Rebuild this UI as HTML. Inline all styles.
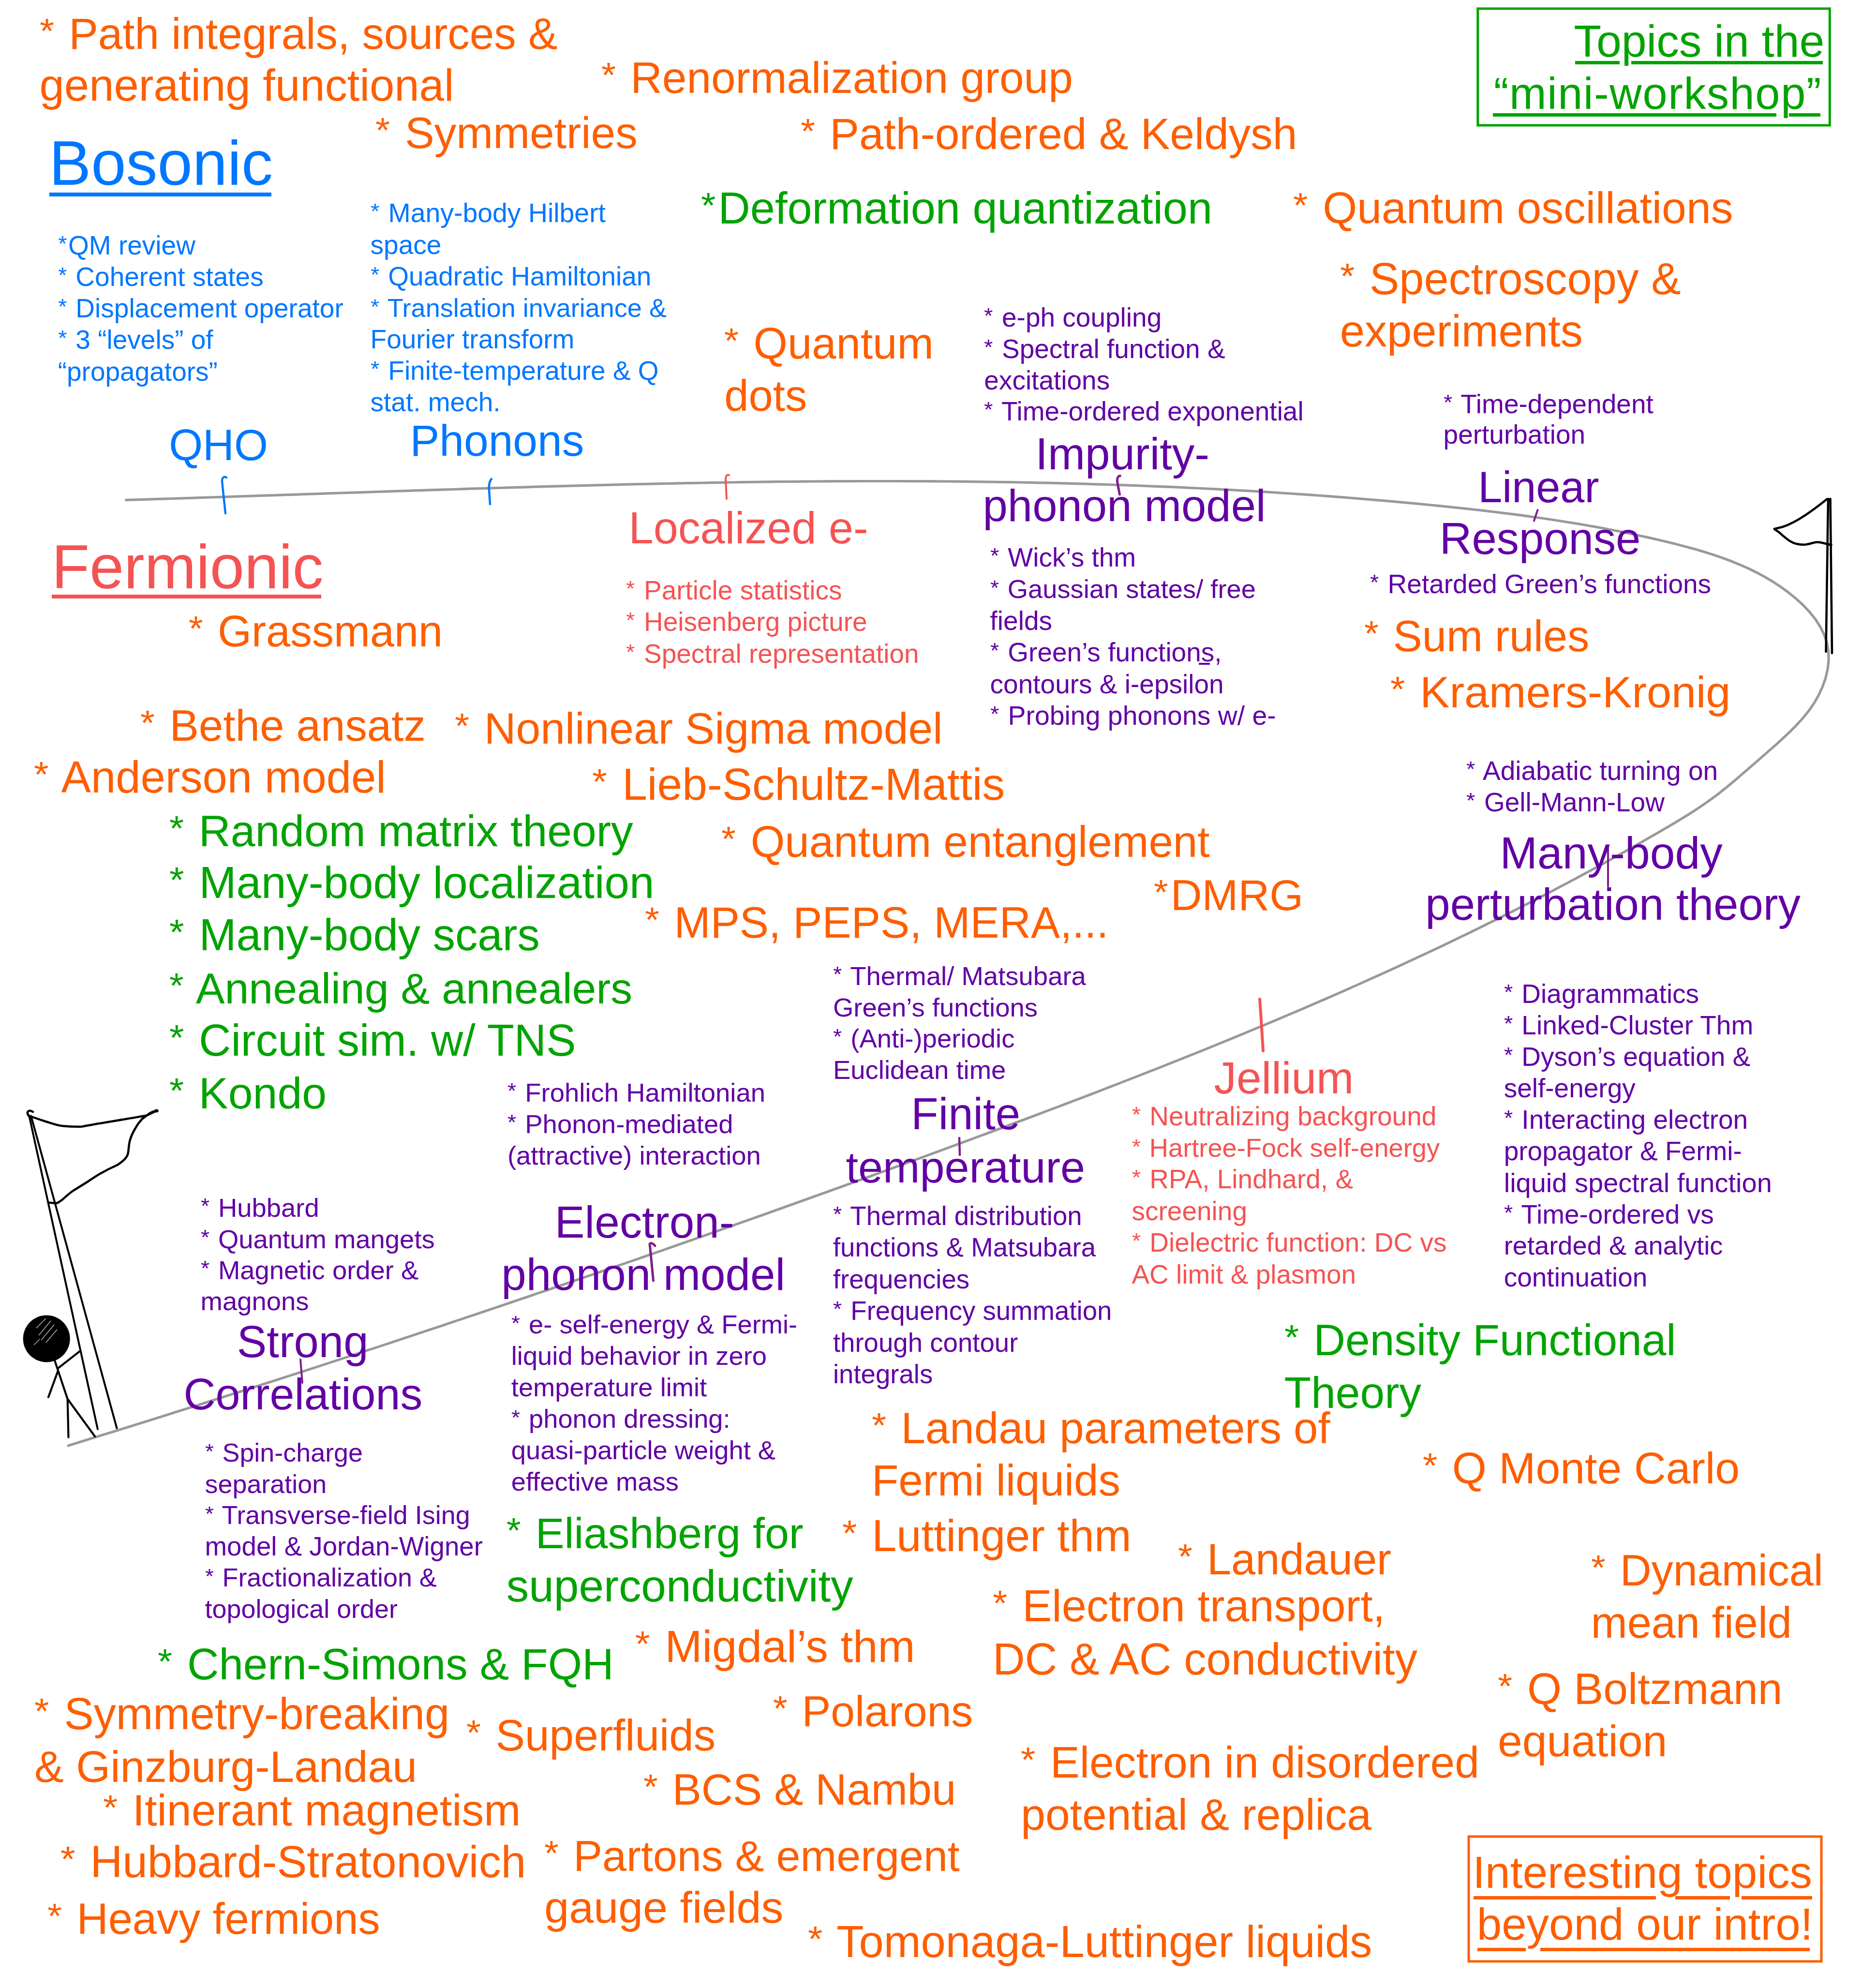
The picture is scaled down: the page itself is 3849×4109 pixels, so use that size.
<!DOCTYPE html>
<html><head><meta charset="utf-8">
<style>
html,body{margin:0;padding:0;background:#fff;}
body{width:3849px;height:4109px;position:relative;overflow:hidden;font-family:"Liberation Sans",sans-serif;}
.t{position:absolute;white-space:pre;margin:0;padding:0;}
.u{position:absolute;}
.a{display:inline-block;transform:scale(0.85,0.8);transform-origin:0 0.3em;}
svg{position:absolute;left:0;top:0;}
</style></head><body>
<svg width="3849" height="4109" viewBox="0 0 3849 4109" xmlns="http://www.w3.org/2000/svg">
<path d="M260.5,1033.4 L279.7,1032.9 L298.8,1032.3 L318.0,1031.7 L337.2,1031.1 L356.4,1030.5 L375.5,1029.9 L394.7,1029.3 L413.9,1028.6 L433.1,1028.0 L452.3,1027.4 L471.5,1026.8 L490.7,1026.1 L509.9,1025.5 L529.1,1024.9 L548.3,1024.2 L567.6,1023.6 L586.8,1022.9 L606.0,1022.3 L625.2,1021.6 L644.5,1021.0 L663.7,1020.3 L682.9,1019.7 L702.1,1019.0 L721.4,1018.4 L740.6,1017.8 L759.9,1017.1 L779.1,1016.5 L798.4,1015.8 L817.6,1015.2 L836.8,1014.6 L856.1,1013.9 L875.4,1013.3 L894.6,1012.7 L913.9,1012.1 L933.1,1011.5 L952.4,1010.8 L971.6,1010.2 L990.9,1009.6 L1010.2,1009.1 L1029.4,1008.5 L1048.7,1007.9 L1068.0,1007.3 L1087.3,1006.8 L1106.5,1006.2 L1125.8,1005.7 L1145.1,1005.1 L1164.4,1004.6 L1183.6,1004.1 L1202.9,1003.6 L1222.2,1003.1 L1241.5,1002.6 L1260.8,1002.1 L1280.0,1001.6 L1299.3,1001.2 L1318.6,1000.7 L1337.9,1000.3 L1357.2,999.9 L1376.5,999.5 L1395.7,999.1 L1415.0,998.7 L1434.3,998.3 L1453.6,998.0 L1472.9,997.6 L1492.2,997.3 L1511.5,997.0 L1530.7,996.7 L1550.0,996.4 L1569.3,996.2 L1588.6,995.9 L1607.9,995.7 L1627.2,995.5 L1646.5,995.3 L1665.7,995.1 L1685.0,995.0 L1704.3,994.9 L1723.6,994.7 L1742.9,994.6 L1762.2,994.6 L1781.5,994.5 L1800.7,994.5 L1820.0,994.5 L1839.3,994.5 L1858.6,994.5 L1877.8,994.6 L1897.1,994.6 L1916.4,994.7 L1935.7,994.8 L1955.0,995.0 L1974.2,995.2 L1993.5,995.3 L2012.8,995.6 L2032.0,995.8 L2051.3,996.1 L2070.6,996.4 L2089.8,996.7 L2109.1,997.0 L2128.4,997.4 L2147.6,997.8 L2166.9,998.2 L2186.1,998.7 L2205.4,999.1 L2224.6,999.7 L2243.9,1000.2 L2263.1,1000.8 L2282.4,1001.4 L2301.6,1002.0 L2320.9,1002.6 L2340.1,1003.3 L2359.3,1004.0 L2378.6,1004.8 L2397.8,1005.6 L2417.0,1006.4 L2436.2,1007.2 L2455.5,1008.1 L2474.7,1009.0 L2493.9,1010.0 L2513.1,1010.9 L2532.3,1012.0 L2551.5,1013.0 L2570.7,1014.1 L2589.9,1015.2 L2609.1,1016.3 L2628.3,1017.5 L2647.5,1018.8 L2666.7,1020.0 L2685.9,1021.3 L2705.1,1022.6 L2724.3,1024.0 L2743.5,1025.4 L2762.6,1026.9 L2781.8,1028.4 L2801.0,1029.9 L2820.1,1031.5 L2839.3,1033.1 L2858.4,1034.7 L2877.6,1036.4 L2896.7,1038.1 L2915.9,1039.9 L2935.0,1041.7 L2954.2,1043.5 L2973.3,1045.4 L2992.4,1047.4 L3011.5,1049.4 L3030.6,1051.4 L3049.8,1053.5 L3068.9,1055.7 L3088.0,1058.0 L3107.0,1060.3 L3126.1,1062.7 L3145.2,1065.2 L3164.3,1067.8 L3183.3,1070.5 L3202.4,1073.3 L3221.4,1076.2 L3240.4,1079.2 L3259.4,1082.3 L3278.5,1085.5 L3297.5,1088.9 L3316.4,1092.3 L3335.4,1096.0 L3354.4,1099.7 L3373.3,1103.6 L3392.2,1107.7 L3411.2,1111.9 L3430.1,1116.2 L3449.0,1120.8 L3467.8,1125.5 L3486.7,1130.4 L3505.4,1135.6 L3524.0,1141.1 L3542.5,1146.9 L3560.9,1153.2 L3579.0,1160.0 L3596.9,1167.3 L3614.5,1175.1 L3631.8,1183.6 L3648.8,1192.8 L3665.4,1202.7 L3681.6,1213.4 L3697.4,1224.9 L3712.6,1237.3 L3727.1,1250.5 L3740.4,1264.6 L3752.3,1279.4 L3762.4,1295.0 L3770.6,1311.3 L3776.4,1328.3 L3779.5,1345.9 L3780.1,1364.0 L3778.1,1382.4 L3773.9,1400.9 L3767.6,1419.0 L3759.5,1436.7 L3749.7,1453.7 L3738.4,1469.9 L3726.0,1485.2 L3712.6,1499.8 L3698.5,1513.9 L3684.1,1527.4 L3669.6,1540.6 L3655.0,1553.4 L3640.4,1566.1 L3625.9,1578.7 L3611.5,1591.2 L3597.1,1603.6 L3582.6,1615.9 L3568.1,1628.0 L3553.3,1639.8 L3538.2,1651.2 L3522.7,1662.2 L3506.9,1672.9 L3490.7,1683.2 L3474.3,1693.3 L3457.7,1703.2 L3441.1,1712.9 L3424.4,1722.7 L3407.7,1732.3 L3390.9,1741.9 L3374.2,1751.4 L3357.4,1760.9 L3340.5,1770.3 L3323.7,1779.7 L3306.8,1789.0 L3289.9,1798.2 L3272.9,1807.4 L3256.0,1816.5 L3239.0,1825.5 L3221.9,1834.5 L3204.9,1843.5 L3187.8,1852.4 L3170.7,1861.2 L3153.6,1870.0 L3136.4,1878.7 L3119.3,1887.4 L3102.1,1896.1 L3084.8,1904.6 L3067.6,1913.2 L3050.3,1921.6 L3033.0,1930.1 L3015.7,1938.4 L2998.3,1946.8 L2981.0,1955.1 L2963.6,1963.3 L2946.2,1971.5 L2928.7,1979.6 L2911.3,1987.7 L2893.8,1995.8 L2876.3,2003.8 L2858.8,2011.8 L2841.3,2019.7 L2823.7,2027.6 L2806.1,2035.5 L2788.6,2043.3 L2771.0,2051.1 L2753.3,2058.8 L2735.7,2066.5 L2718.0,2074.1 L2700.3,2081.8 L2682.7,2089.3 L2664.9,2096.9 L2647.2,2104.4 L2629.5,2111.9 L2611.7,2119.3 L2593.9,2126.7 L2576.2,2134.1 L2558.4,2141.5 L2540.5,2148.8 L2522.7,2156.1 L2504.9,2163.3 L2487.0,2170.6 L2469.2,2177.8 L2451.3,2184.9 L2433.4,2192.1 L2415.5,2199.2 L2397.6,2206.3 L2379.6,2213.4 L2361.7,2220.4 L2343.8,2227.4 L2325.8,2234.4 L2307.9,2241.4 L2289.9,2248.3 L2271.9,2255.3 L2253.9,2262.2 L2235.9,2269.1 L2217.9,2275.9 L2199.9,2282.8 L2181.9,2289.6 L2163.8,2296.4 L2145.8,2303.2 L2127.8,2310.0 L2109.7,2316.8 L2091.7,2323.5 L2073.6,2330.3 L2055.5,2337.0 L2037.5,2343.7 L2019.4,2350.4 L2001.3,2357.1 L1983.3,2363.8 L1965.2,2370.4 L1947.1,2377.1 L1929.0,2383.7 L1910.9,2390.4 L1892.8,2397.0 L1874.7,2403.6 L1856.6,2410.2 L1838.5,2416.8 L1820.4,2423.4 L1802.3,2430.0 L1784.2,2436.6 L1766.1,2443.1 L1748.0,2449.7 L1729.9,2456.2 L1711.8,2462.7 L1693.7,2469.3 L1675.5,2475.8 L1657.4,2482.3 L1639.3,2488.8 L1621.2,2495.3 L1603.0,2501.7 L1584.9,2508.2 L1566.7,2514.7 L1548.6,2521.1 L1530.5,2527.5 L1512.3,2534.0 L1494.2,2540.4 L1476.0,2546.8 L1457.9,2553.2 L1439.7,2559.6 L1421.5,2566.0 L1403.4,2572.3 L1385.2,2578.7 L1367.0,2585.1 L1348.8,2591.4 L1330.7,2597.7 L1312.5,2604.1 L1294.3,2610.4 L1276.1,2616.7 L1257.9,2623.0 L1239.7,2629.2 L1221.5,2635.5 L1203.3,2641.8 L1185.1,2648.0 L1166.9,2654.3 L1148.7,2660.5 L1130.5,2666.7 L1112.3,2672.9 L1094.0,2679.2 L1075.8,2685.3 L1057.6,2691.5 L1039.3,2697.7 L1021.1,2703.9 L1002.9,2710.0 L984.6,2716.2 L966.4,2722.3 L948.1,2728.4 L929.9,2734.5 L911.6,2740.7 L893.3,2746.7 L875.1,2752.8 L856.8,2758.9 L838.5,2765.0 L820.3,2771.0 L802.0,2777.1 L783.7,2783.1 L765.4,2789.1 L747.1,2795.1 L728.8,2801.2 L710.5,2807.1 L692.2,2813.1 L673.9,2819.1 L655.6,2825.1 L637.3,2831.0 L618.9,2837.0 L600.6,2842.9 L582.3,2848.8 L564.0,2854.7 L545.6,2860.6 L527.3,2866.5 L508.9,2872.4 L490.6,2878.3 L472.2,2884.1 L453.9,2890.0 L435.5,2895.8 L417.1,2901.7 L398.8,2907.5 L380.4,2913.3 L362.0,2919.1 L343.6,2924.9 L325.2,2930.7 L306.8,2936.4 L288.4,2942.2 L270.0,2948.0 L251.6,2953.7 L233.2,2959.4 L214.8,2965.1 L196.4,2970.8 L178.0,2976.5 L159.5,2982.2 L141.1,2987.9" fill="none" stroke="#999999" stroke-width="5.2" stroke-linecap="round" stroke-linejoin="round"/>
<path d="M468,987 C463,984 459,987 459,995 L466,1061" fill="none" stroke="#0077ff" stroke-width="4.5" stroke-linecap="round" stroke-linejoin="round"/>
<path d="M1016,990 C1012,994 1010,1004 1011,1014 L1013,1042" fill="none" stroke="#0077ff" stroke-width="4.5" stroke-linecap="round" stroke-linejoin="round"/>
<path d="M1507,982 C1502,980 1500,985 1500,992 L1502,1031" fill="none" stroke="#f55353" stroke-width="4" stroke-linecap="round" stroke-linejoin="round"/>
<path d="M2315.5,983.5 C2311,984 2309,987 2309.5,995 L2311,1004 L2314.5,1022" fill="none" stroke="#7e1f8a" stroke-width="5" stroke-linecap="round" stroke-linejoin="round"/>
<path d="M3178.5,1054 L3171,1076.5" fill="none" stroke="#7e1f8a" stroke-width="4" stroke-linecap="round" stroke-linejoin="round"/>
<path d="M3324,1750 L3324,1832" fill="none" stroke="#7e1f8a" stroke-width="4" stroke-linecap="round" stroke-linejoin="round"/>
<path d="M2604,2065 L2606.5,2100 L2609,2140 L2611,2172" fill="none" stroke="#f55353" stroke-width="6" stroke-linecap="round" stroke-linejoin="round"/>
<path d="M1983,2352 L1984,2387" fill="none" stroke="#7e1f8a" stroke-width="4.5" stroke-linecap="round" stroke-linejoin="round"/>
<path d="M1354,2575 C1350,2570 1346,2568 1343,2571 L1344,2580 L1350.5,2647" fill="none" stroke="#7e1f8a" stroke-width="5" stroke-linecap="round" stroke-linejoin="round"/>
<path d="M621,2810 L625,2858" fill="none" stroke="#7e1f8a" stroke-width="4" stroke-linecap="round" stroke-linejoin="round"/>
<rect x="3054.8" y="17.8" width="727.5" height="241.2" fill="none" stroke="#00a300" stroke-width="5"/>
<rect x="3036" y="3796" width="729" height="258" fill="none" stroke="#fe5e00" stroke-width="5"/>
<path d="M3779,1031 L3774.5,1347 M3783.5,1031 L3787,1350" fill="none" stroke="#000" stroke-width="4.6" stroke-linecap="round"/>
<path d="M3776,1032 C3760,1045 3745,1056 3732.5,1064.3 C3715,1076 3700,1084 3685,1089 L3667.6,1093.3 C3675,1098 3680,1102 3684.3,1106.2 C3695,1115 3703,1122 3713.2,1123.9 C3722,1126 3727,1126 3732.5,1125.5 C3745,1124 3750,1120 3758.3,1120.6 C3768,1121 3775,1125 3785.6,1126.1" fill="none" stroke="#000" stroke-width="4.6" stroke-linecap="round" stroke-linejoin="round"/>
<path d="M60.4,2306.6 L201.9,2953.8 M64.2,2306.6 L241.5,2951.9" fill="none" stroke="#000" stroke-width="4" stroke-linecap="round"/>
<path d="M62,2309 C56,2304 55,2298 60,2296 C64,2295 66,2297 68,2298 M60,2306 C70,2310 82,2314 94.3,2318 C108,2322 120,2327 132,2327.4 C145,2328.5 158,2329 169.8,2328.5 C183,2326 195,2323.5 207.5,2321.7 C226,2318.5 245,2315.5 264,2312.3 C277,2310 290,2308 301.9,2305.8 C310,2303 318,2298 324.5,2295.3 M324.5,2295.3 C318,2297 313,2299 309.4,2301 C304,2305 299,2309 294.3,2312.3 C288,2319 283,2326 279.2,2333 C274,2342 270,2350 268,2359.4 C266,2368 266,2378 264.2,2385.8 C262,2391 259,2395 256.6,2397.2 C251,2402 246,2406 241.5,2408.5 C231,2413 221,2418 211.3,2423.6 C201,2429 191,2436 181.1,2442.5 C171,2449 161,2455 150.9,2461.3 C143,2467 135,2474 128.3,2480.2 C124,2483 120,2486 117,2487 L102,2485.8" fill="none" stroke="#000" stroke-width="4.5" stroke-linecap="round" stroke-linejoin="round"/>
<path d="M321,2295 C324,2293 327,2294 326,2297 C323,2299 320,2298 321,2295 Z" fill="#000" stroke="#000" stroke-width="3"/>
<circle cx="96.2" cy="2767" r="48.5" fill="#000"/>
<path d="M75,2745 L95,2725 M80,2760 L105,2730 M85,2770 L112,2738 M95,2775 L118,2748 M70,2780 L82,2768" fill="none" stroke="#fff" stroke-width="1.2" opacity="0.8"/>
<path d="M113.2,2812.3 L139.6,2891.5 M120.8,2827.4 L164.2,2793.4 M120,2833 L100,2887.7 M139.6,2891.5 L141.5,2970.8 M139.6,2891.5 L196.2,2968.9" fill="none" stroke="#000" stroke-width="4.2" stroke-linecap="round" stroke-linejoin="round"/>
</svg>
<div class="t" style="left:81.5px;top:13.3px;font-size:90.9px;line-height:113.62px;color:#fe5e00;"><span class="a">*</span> Path integrals, sources &amp;</div>
<div class="t" style="left:81.5px;top:118.9px;font-size:92.3px;line-height:115.38px;color:#fe5e00;">generating functional</div>
<div class="t" style="left:1242.6px;top:104.4px;font-size:90.9px;line-height:113.62px;color:#fe5e00;"><span class="a">*</span> Renormalization group</div>
<div class="t" style="left:776.2px;top:217.5px;font-size:91.1px;line-height:113.88px;color:#fe5e00;"><span class="a">*</span> Symmetries</div>
<div class="t" style="left:1654.5px;top:220.0px;font-size:91.0px;line-height:113.75px;color:#fe5e00;"><span class="a">*</span> Path-ordered &amp; Keldysh</div>
<div class="t" style="left:101.5px;top:256.0px;font-size:130px;line-height:162.5px;color:#0077ff;">Bosonic</div>
<div class="t" style="left:1448.7px;top:373.3px;font-size:91.9px;line-height:114.88px;color:#00a300;"><span class="a">*</span>Deformation quantization</div>
<div class="t" style="left:2673.2px;top:372.2px;font-size:91.4px;line-height:114.25px;color:#fe5e00;"><span class="a">*</span> Quantum oscillations</div>
<div class="t" style="left:2769.7px;top:519.0px;font-size:91.9px;line-height:114.88px;color:#fe5e00;"><span class="a">*</span> Spectroscopy &amp;</div>
<div class="t" style="left:2769.7px;top:626.9px;font-size:92.2px;line-height:115.25px;color:#fe5e00;">experiments</div>
<div class="t" style="left:119.7px;top:472.6px;font-size:55px;line-height:68.75px;color:#0077ff;"><span class="a">*</span>QM review</div>
<div class="t" style="left:119.7px;top:537.8px;font-size:55px;line-height:68.75px;color:#0077ff;"><span class="a">*</span> Coherent states</div>
<div class="t" style="left:119.7px;top:603.1px;font-size:55px;line-height:68.75px;color:#0077ff;"><span class="a">*</span> Displacement operator</div>
<div class="t" style="left:119.7px;top:668.3px;font-size:55px;line-height:68.75px;color:#0077ff;"><span class="a">*</span> 3 “levels” of</div>
<div class="t" style="left:119.7px;top:733.6px;font-size:55px;line-height:68.75px;color:#0077ff;">“propagators”</div>
<div class="t" style="left:765.6px;top:406.2px;font-size:55.4px;line-height:69.25px;color:#0077ff;"><span class="a">*</span> Many-body Hilbert</div>
<div class="t" style="left:765.6px;top:471.6px;font-size:55px;line-height:68.75px;color:#0077ff;">space</div>
<div class="t" style="left:765.6px;top:536.6px;font-size:55.0px;line-height:68.75px;color:#0077ff;"><span class="a">*</span> Quadratic Hamiltonian</div>
<div class="t" style="left:765.6px;top:602.5px;font-size:54.0px;line-height:67.5px;color:#0077ff;"><span class="a">*</span> Translation invariance &amp;</div>
<div class="t" style="left:765.6px;top:666.6px;font-size:55px;line-height:68.75px;color:#0077ff;">Fourier transform</div>
<div class="t" style="left:765.6px;top:731.6px;font-size:55px;line-height:68.75px;color:#0077ff;"><span class="a">*</span> Finite-temperature &amp; Q</div>
<div class="t" style="left:765.6px;top:796.6px;font-size:55px;line-height:68.75px;color:#0077ff;">stat. mech.</div>
<div class="t" style="left:1497.2px;top:652.7px;font-size:90.5px;line-height:113.12px;color:#fe5e00;"><span class="a">*</span> Quantum</div>
<div class="t" style="left:1497.2px;top:761.2px;font-size:90.5px;line-height:113.12px;color:#fe5e00;">dots</div>
<div class="t" style="left:2034.3px;top:622.1px;font-size:55px;line-height:68.75px;color:#6200a4;"><span class="a">*</span> e-ph coupling</div>
<div class="t" style="left:2034.3px;top:686.8px;font-size:55px;line-height:68.75px;color:#6200a4;"><span class="a">*</span> Spectral function &amp;</div>
<div class="t" style="left:2034.3px;top:751.5px;font-size:55px;line-height:68.75px;color:#6200a4;">excitations</div>
<div class="t" style="left:2034.3px;top:816.2px;font-size:55px;line-height:68.75px;color:#6200a4;"><span class="a">*</span> Time-ordered exponential</div>
<div class="t" style="left:349.2px;top:864.2px;font-size:89.9px;line-height:112.38px;color:#0077ff;">QHO</div>
<div class="t" style="left:847.4px;top:852.6px;font-size:91.2px;line-height:114.0px;color:#0077ff;">Phonons</div>
<div class="t" style="left:2140.2px;top:881.0px;font-size:92.5px;line-height:115.62px;color:#6200a4;">Impurity-</div>
<div class="t" style="left:2031.5px;top:988.3px;font-size:92.3px;line-height:115.38px;color:#6200a4;">phonon model</div>
<div class="t" style="left:2983.6px;top:800.8px;font-size:55px;line-height:68.75px;color:#6200a4;"><span class="a">*</span> Time-dependent</div>
<div class="t" style="left:2983.6px;top:864.4px;font-size:55px;line-height:68.75px;color:#6200a4;">perturbation</div>
<div class="t" style="left:3055.2px;top:951.1px;font-size:90.0px;line-height:112.5px;color:#6200a4;">Linear</div>
<div class="t" style="left:2975.8px;top:1055.7px;font-size:92.3px;line-height:115.38px;color:#6200a4;">Response</div>
<div class="t" style="left:106.7px;top:1091.9px;font-size:128px;line-height:160.0px;color:#f55353;">Fermionic</div>
<div class="t" style="left:1299.6px;top:1034.3px;font-size:91.8px;line-height:114.75px;color:#f55353;">Localized e-</div>
<div class="t" style="left:1294.3px;top:1186.3px;font-size:55px;line-height:68.75px;color:#f55353;"><span class="a">*</span> Particle statistics</div>
<div class="t" style="left:1294.3px;top:1251.4px;font-size:55px;line-height:68.75px;color:#f55353;"><span class="a">*</span> Heisenberg picture</div>
<div class="t" style="left:1294.3px;top:1316.5px;font-size:55px;line-height:68.75px;color:#f55353;"><span class="a">*</span> Spectral representation</div>
<div class="t" style="left:2046.6px;top:1118.1px;font-size:55px;line-height:68.75px;color:#6200a4;"><span class="a">*</span> Wick’s thm</div>
<div class="t" style="left:2046.6px;top:1184.1px;font-size:54.3px;line-height:67.88px;color:#6200a4;"><span class="a">*</span> Gaussian states/ free</div>
<div class="t" style="left:2046.6px;top:1248.9px;font-size:55px;line-height:68.75px;color:#6200a4;">fields</div>
<div class="t" style="left:2046.6px;top:1314.3px;font-size:55px;line-height:68.75px;color:#6200a4;"><span class="a">*</span> Green’s functions,</div>
<div class="t" style="left:2046.6px;top:1379.7px;font-size:55px;line-height:68.75px;color:#6200a4;">contours &amp; i-epsilon</div>
<div class="t" style="left:2046.6px;top:1444.7px;font-size:55.4px;line-height:69.25px;color:#6200a4;"><span class="a">*</span> Probing phonons w/ e-</div>
<div class="t" style="left:2831.9px;top:1172.6px;font-size:55px;line-height:68.75px;color:#6200a4;"><span class="a">*</span> Retarded Green’s functions</div>
<div class="t" style="left:389.9px;top:1248.5px;font-size:90.0px;line-height:112.5px;color:#fe5e00;"><span class="a">*</span> Grassmann</div>
<div class="t" style="left:2819.6px;top:1258.9px;font-size:90.1px;line-height:112.62px;color:#fe5e00;"><span class="a">*</span> Sum rules</div>
<div class="t" style="left:2874.2px;top:1372.9px;font-size:91.7px;line-height:114.62px;color:#fe5e00;"><span class="a">*</span> Kramers-Kronig</div>
<div class="t" style="left:289.9px;top:1443.2px;font-size:90.7px;line-height:113.38px;color:#fe5e00;"><span class="a">*</span> Bethe ansatz</div>
<div class="t" style="left:939.9px;top:1447.9px;font-size:91.2px;line-height:114.0px;color:#fe5e00;"><span class="a">*</span> Nonlinear Sigma model</div>
<div class="t" style="left:70.1px;top:1548.5px;font-size:92.2px;line-height:115.25px;color:#fe5e00;"><span class="a">*</span> Anderson model</div>
<div class="t" style="left:1224.1px;top:1563.3px;font-size:93.0px;line-height:116.25px;color:#fe5e00;"><span class="a">*</span> Lieb-Schultz-Mattis</div>
<div class="t" style="left:349.8px;top:1659.8px;font-size:91.3px;line-height:114.12px;color:#00a300;"><span class="a">*</span> Random matrix theory</div>
<div class="t" style="left:349.8px;top:1767.0px;font-size:92.5px;line-height:115.62px;color:#00a300;"><span class="a">*</span> Many-body localization</div>
<div class="t" style="left:349.8px;top:1875.4px;font-size:92.5px;line-height:115.62px;color:#00a300;"><span class="a">*</span> Many-body scars</div>
<div class="t" style="left:349.8px;top:1986.5px;font-size:89.7px;line-height:112.12px;color:#00a300;"><span class="a">*</span> Annealing &amp; annealers</div>
<div class="t" style="left:349.8px;top:2092.8px;font-size:91.9px;line-height:114.88px;color:#00a300;"><span class="a">*</span> Circuit sim. w/ TNS</div>
<div class="t" style="left:349.8px;top:2201.7px;font-size:91.4px;line-height:114.25px;color:#00a300;"><span class="a">*</span> Kondo</div>
<div class="t" style="left:1491.1px;top:1682.8px;font-size:90.8px;line-height:113.5px;color:#fe5e00;"><span class="a">*</span> Quantum entanglement</div>
<div class="t" style="left:3031.3px;top:1559.1px;font-size:55px;line-height:68.75px;color:#6200a4;"><span class="a">*</span> Adiabatic turning on</div>
<div class="t" style="left:3031.3px;top:1624.1px;font-size:55px;line-height:68.75px;color:#6200a4;"><span class="a">*</span> Gell-Mann-Low</div>
<div class="t" style="left:3100.6px;top:1704.6px;font-size:93.0px;line-height:116.25px;color:#6200a4;">Many-body</div>
<div class="t" style="left:2946.3px;top:1811.8px;font-size:92.4px;line-height:115.5px;color:#6200a4;">perturbation theory</div>
<div class="t" style="left:2384.8px;top:1793.7px;font-size:89.8px;line-height:112.25px;color:#fe5e00;"><span class="a">*</span>DMRG</div>
<div class="t" style="left:1333.2px;top:1850.8px;font-size:90.3px;line-height:112.88px;color:#fe5e00;"><span class="a">*</span> MPS, PEPS, MERA,...</div>
<div class="t" style="left:1721.9px;top:1984.0px;font-size:54.5px;line-height:68.12px;color:#6200a4;"><span class="a">*</span> Thermal/ Matsubara</div>
<div class="t" style="left:1721.9px;top:2048.6px;font-size:54.5px;line-height:68.12px;color:#6200a4;">Green’s functions</div>
<div class="t" style="left:1721.9px;top:2113.2px;font-size:54.5px;line-height:68.12px;color:#6200a4;"><span class="a">*</span> (Anti-)periodic</div>
<div class="t" style="left:1721.9px;top:2177.8px;font-size:54.5px;line-height:68.12px;color:#6200a4;">Euclidean time</div>
<div class="t" style="left:3108.7px;top:2019.6px;font-size:55px;line-height:68.75px;color:#6200a4;"><span class="a">*</span> Diagrammatics</div>
<div class="t" style="left:3108.7px;top:2084.7px;font-size:55px;line-height:68.75px;color:#6200a4;"><span class="a">*</span> Linked-Cluster Thm</div>
<div class="t" style="left:3108.7px;top:2149.9px;font-size:55px;line-height:68.75px;color:#6200a4;"><span class="a">*</span> Dyson’s equation &amp;</div>
<div class="t" style="left:3108.7px;top:2215.0px;font-size:55px;line-height:68.75px;color:#6200a4;">self-energy</div>
<div class="t" style="left:3108.7px;top:2280.2px;font-size:55px;line-height:68.75px;color:#6200a4;"><span class="a">*</span> Interacting electron</div>
<div class="t" style="left:3108.7px;top:2345.3px;font-size:55px;line-height:68.75px;color:#6200a4;">propagator &amp; Fermi-</div>
<div class="t" style="left:3108.7px;top:2409.5px;font-size:56.0px;line-height:70.0px;color:#6200a4;">liquid spectral function</div>
<div class="t" style="left:3108.7px;top:2475.6px;font-size:55px;line-height:68.75px;color:#6200a4;"><span class="a">*</span> Time-ordered vs</div>
<div class="t" style="left:3108.7px;top:2541.4px;font-size:54.3px;line-height:67.88px;color:#6200a4;">retarded &amp; analytic</div>
<div class="t" style="left:3108.7px;top:2605.9px;font-size:55px;line-height:68.75px;color:#6200a4;">continuation</div>
<div class="t" style="left:2509.6px;top:2170.3px;font-size:92.8px;line-height:116.0px;color:#f55353;">Jellium</div>
<div class="t" style="left:2339.5px;top:2272.6px;font-size:55.0px;line-height:68.75px;color:#f55353;"><span class="a">*</span> Neutralizing background</div>
<div class="t" style="left:2339.5px;top:2338.6px;font-size:54.3px;line-height:67.88px;color:#f55353;"><span class="a">*</span> Hartree-Fock self-energy</div>
<div class="t" style="left:2339.5px;top:2403.4px;font-size:55px;line-height:68.75px;color:#f55353;"><span class="a">*</span> RPA, Lindhard, &amp;</div>
<div class="t" style="left:2339.5px;top:2468.8px;font-size:55px;line-height:68.75px;color:#f55353;">screening</div>
<div class="t" style="left:2339.5px;top:2534.2px;font-size:55.0px;line-height:68.75px;color:#f55353;"><span class="a">*</span> Dielectric function: DC vs</div>
<div class="t" style="left:2339.5px;top:2599.7px;font-size:54.9px;line-height:68.62px;color:#f55353;">AC limit &amp; plasmon</div>
<div class="t" style="left:1048.9px;top:2224.7px;font-size:54.5px;line-height:68.12px;color:#6200a4;"><span class="a">*</span> Frohlich Hamiltonian</div>
<div class="t" style="left:1048.9px;top:2289.8px;font-size:54.5px;line-height:68.12px;color:#6200a4;"><span class="a">*</span> Phonon-mediated</div>
<div class="t" style="left:1048.9px;top:2354.9px;font-size:54.5px;line-height:68.12px;color:#6200a4;">(attractive) interaction</div>
<div class="t" style="left:1883.3px;top:2245.3px;font-size:92.3px;line-height:115.38px;color:#6200a4;">Finite</div>
<div class="t" style="left:1748.6px;top:2354.9px;font-size:91.7px;line-height:114.62px;color:#6200a4;">temperature</div>
<div class="t" style="left:1721.9px;top:2479.9px;font-size:54.6px;line-height:68.25px;color:#6200a4;"><span class="a">*</span> Thermal distribution</div>
<div class="t" style="left:1721.9px;top:2545.3px;font-size:54.6px;line-height:68.25px;color:#6200a4;">functions &amp; Matsubara</div>
<div class="t" style="left:1721.9px;top:2610.7px;font-size:54.6px;line-height:68.25px;color:#6200a4;">frequencies</div>
<div class="t" style="left:1721.9px;top:2676.1px;font-size:54.6px;line-height:68.25px;color:#6200a4;"><span class="a">*</span> Frequency summation</div>
<div class="t" style="left:1721.9px;top:2741.5px;font-size:54.6px;line-height:68.25px;color:#6200a4;">through contour</div>
<div class="t" style="left:1721.9px;top:2806.9px;font-size:54.6px;line-height:68.25px;color:#6200a4;">integrals</div>
<div class="t" style="left:414.6px;top:2463.4px;font-size:54.45px;line-height:68.06px;color:#6200a4;"><span class="a">*</span> Hubbard</div>
<div class="t" style="left:414.6px;top:2527.7px;font-size:54.45px;line-height:68.06px;color:#6200a4;"><span class="a">*</span> Quantum mangets</div>
<div class="t" style="left:414.6px;top:2592.0px;font-size:54.45px;line-height:68.06px;color:#6200a4;"><span class="a">*</span> Magnetic order &amp;</div>
<div class="t" style="left:414.6px;top:2656.3px;font-size:54.45px;line-height:68.06px;color:#6200a4;">magnons</div>
<div class="t" style="left:1146.8px;top:2468.9px;font-size:92.7px;line-height:115.88px;color:#6200a4;">Electron-</div>
<div class="t" style="left:1036.2px;top:2577.2px;font-size:92.6px;line-height:115.75px;color:#6200a4;">phonon model</div>
<div class="t" style="left:489.8px;top:2715.7px;font-size:92.2px;line-height:115.25px;color:#6200a4;">Strong</div>
<div class="t" style="left:379.4px;top:2824.0px;font-size:91.6px;line-height:114.5px;color:#6200a4;">Correlations</div>
<div class="t" style="left:1056.8px;top:2704.2px;font-size:54.3px;line-height:67.88px;color:#6200a4;"><span class="a">*</span> e- self-energy &amp; Fermi-</div>
<div class="t" style="left:1056.8px;top:2769.1px;font-size:54.3px;line-height:67.88px;color:#6200a4;">liquid behavior in zero</div>
<div class="t" style="left:1056.8px;top:2834.0px;font-size:54.3px;line-height:67.88px;color:#6200a4;">temperature limit</div>
<div class="t" style="left:1056.8px;top:2898.9px;font-size:54.3px;line-height:67.88px;color:#6200a4;"><span class="a">*</span> phonon dressing:</div>
<div class="t" style="left:1056.8px;top:2963.8px;font-size:54.3px;line-height:67.88px;color:#6200a4;">quasi-particle weight &amp;</div>
<div class="t" style="left:1056.8px;top:3028.7px;font-size:54.3px;line-height:67.88px;color:#6200a4;">effective mass</div>
<div class="t" style="left:2654.5px;top:2713.3px;font-size:91.1px;line-height:113.88px;color:#00a300;"><span class="a">*</span> Density Functional</div>
<div class="t" style="left:2654.5px;top:2822.2px;font-size:91.1px;line-height:113.88px;color:#00a300;">Theory</div>
<div class="t" style="left:423.5px;top:2969.1px;font-size:53.9px;line-height:67.38px;color:#6200a4;"><span class="a">*</span> Spin-charge</div>
<div class="t" style="left:423.5px;top:3033.6px;font-size:53.9px;line-height:67.38px;color:#6200a4;">separation</div>
<div class="t" style="left:423.5px;top:3098.1px;font-size:53.9px;line-height:67.38px;color:#6200a4;"><span class="a">*</span> Transverse-field Ising</div>
<div class="t" style="left:423.5px;top:3161.8px;font-size:54.7px;line-height:68.38px;color:#6200a4;">model &amp; Jordan-Wigner</div>
<div class="t" style="left:423.5px;top:3227.1px;font-size:53.9px;line-height:67.38px;color:#6200a4;"><span class="a">*</span> Fractionalization &amp;</div>
<div class="t" style="left:423.5px;top:3291.6px;font-size:53.9px;line-height:67.38px;color:#6200a4;">topological order</div>
<div class="t" style="left:1801.9px;top:2894.9px;font-size:90.7px;line-height:113.38px;color:#fe5e00;"><span class="a">*</span> Landau parameters of</div>
<div class="t" style="left:1801.9px;top:3002.7px;font-size:90.7px;line-height:113.38px;color:#fe5e00;">Fermi liquids</div>
<div class="t" style="left:2940.9px;top:2976.9px;font-size:91.4px;line-height:114.25px;color:#fe5e00;"><span class="a">*</span> Q Monte Carlo</div>
<div class="t" style="left:1046.8px;top:3113.3px;font-size:89.8px;line-height:112.25px;color:#00a300;"><span class="a">*</span> Eliashberg for</div>
<div class="t" style="left:1046.8px;top:3219.6px;font-size:92.8px;line-height:116.0px;color:#00a300;">superconductivity</div>
<div class="t" style="left:1740.9px;top:3116.7px;font-size:91.9px;line-height:114.88px;color:#fe5e00;"><span class="a">*</span> Luttinger thm</div>
<div class="t" style="left:2434.8px;top:3166.6px;font-size:90.2px;line-height:112.75px;color:#fe5e00;"><span class="a">*</span> Landauer</div>
<div class="t" style="left:3288.7px;top:3189.5px;font-size:90.0px;line-height:112.5px;color:#fe5e00;"><span class="a">*</span> Dynamical</div>
<div class="t" style="left:3288.7px;top:3298.0px;font-size:90.0px;line-height:112.5px;color:#fe5e00;">mean field</div>
<div class="t" style="left:2051.9px;top:3261.8px;font-size:91.8px;line-height:114.75px;color:#fe5e00;"><span class="a">*</span> Electron transport,</div>
<div class="t" style="left:2051.9px;top:3371.6px;font-size:92.4px;line-height:115.5px;color:#fe5e00;">DC &amp; AC conductivity</div>
<div class="t" style="left:1312.9px;top:3345.7px;font-size:92.4px;line-height:115.5px;color:#fe5e00;"><span class="a">*</span> Migdal’s thm</div>
<div class="t" style="left:326.4px;top:3383.4px;font-size:90.7px;line-height:113.38px;color:#00a300;"><span class="a">*</span> Chern-Simons &amp; FQH</div>
<div class="t" style="left:3096.0px;top:3432.7px;font-size:91.3px;line-height:114.12px;color:#fe5e00;"><span class="a">*</span> Q Boltzmann</div>
<div class="t" style="left:3096.0px;top:3540.6px;font-size:91.3px;line-height:114.12px;color:#fe5e00;">equation</div>
<div class="t" style="left:1597.8px;top:3480.9px;font-size:89.6px;line-height:112.0px;color:#fe5e00;"><span class="a">*</span> Polarons</div>
<div class="t" style="left:71.1px;top:3485.2px;font-size:91.9px;line-height:114.88px;color:#fe5e00;"><span class="a">*</span> Symmetry-breaking</div>
<div class="t" style="left:71.1px;top:3593.7px;font-size:91.2px;line-height:114.0px;color:#fe5e00;">&amp; Ginzburg-Landau</div>
<div class="t" style="left:963.8px;top:3529.7px;font-size:90.9px;line-height:113.62px;color:#fe5e00;"><span class="a">*</span> Superfluids</div>
<div class="t" style="left:2110.2px;top:3584.9px;font-size:91.2px;line-height:114.0px;color:#fe5e00;"><span class="a">*</span> Electron in disordered</div>
<div class="t" style="left:2110.2px;top:3692.8px;font-size:91.2px;line-height:114.0px;color:#fe5e00;">potential &amp; replica</div>
<div class="t" style="left:1329.5px;top:3642.9px;font-size:90.2px;line-height:112.75px;color:#fe5e00;"><span class="a">*</span> BCS &amp; Nambu</div>
<div class="t" style="left:212.8px;top:3683.8px;font-size:91.4px;line-height:114.25px;color:#fe5e00;"><span class="a">*</span> Itinerant magnetism</div>
<div class="t" style="left:1125.3px;top:3780.1px;font-size:89.8px;line-height:112.25px;color:#fe5e00;"><span class="a">*</span> Partons &amp; emergent</div>
<div class="t" style="left:1125.3px;top:3885.2px;font-size:91.6px;line-height:114.5px;color:#fe5e00;">gauge fields</div>
<div class="t" style="left:124.7px;top:3790.5px;font-size:92.6px;line-height:115.75px;color:#fe5e00;"><span class="a">*</span> Hubbard-Stratonovich</div>
<div class="t" style="left:98.2px;top:3910.0px;font-size:90.3px;line-height:112.88px;color:#fe5e00;"><span class="a">*</span> Heavy fermions</div>
<div class="t" style="left:1669.5px;top:3956.0px;font-size:92.2px;line-height:115.25px;color:#fe5e00;"><span class="a">*</span> Tomonaga-Luttinger liquids</div>
<div class="t" style="left:3253.3px;top:26.7px;font-size:93.2px;line-height:116.5px;color:#00a300;">Topics in the</div>
<div class="t" style="left:3087.8px;top:135.6px;font-size:92px;line-height:115.0px;color:#00a300;letter-spacing:1.6px">“mini-workshop”</div>
<div class="t" style="left:3044.3px;top:3812.1px;font-size:92.8px;line-height:116.0px;color:#fe5e00;">Interesting topics</div>
<div class="t" style="left:3052.7px;top:3919.6px;font-size:92.6px;line-height:115.75px;color:#fe5e00;">beyond our intro!</div>
<div class="u" style="left:102.0px;top:397.9px;width:458.5px;height:8.0px;background:#0077ff"></div>
<div class="u" style="left:107.0px;top:1229.4px;width:557.0px;height:7.5px;background:#f55353"></div>
<div class="u" style="left:3256.0px;top:126.0px;width:91.6px;height:6.5px;background:#00a300"></div>
<div class="u" style="left:3372.4px;top:126.0px;width:395.4px;height:6.5px;background:#00a300"></div>
<div class="u" style="left:3085.6px;top:233.8px;width:586.4px;height:7.4px;background:#00a300"></div>
<div class="u" style="left:3698.0px;top:233.8px;width:64.5px;height:7.4px;background:#00a300"></div>
<div class="u" style="left:3046.0px;top:3919.1px;width:377.0px;height:6.7px;background:#fe5e00"></div>
<div class="u" style="left:3463.0px;top:3919.1px;width:113.0px;height:6.7px;background:#fe5e00"></div>
<div class="u" style="left:3600.0px;top:3919.1px;width:145.6px;height:6.7px;background:#fe5e00"></div>
<div class="u" style="left:3054.4px;top:4026.3px;width:99.6px;height:7.2px;background:#fe5e00"></div>
<div class="u" style="left:3184.0px;top:4026.3px;width:557.4px;height:7.2px;background:#fe5e00"></div>
<div class="u" style="left:2478.0px;top:1370.0px;width:23.0px;height:3.7px;background:#6200a4"></div>
</body></html>
